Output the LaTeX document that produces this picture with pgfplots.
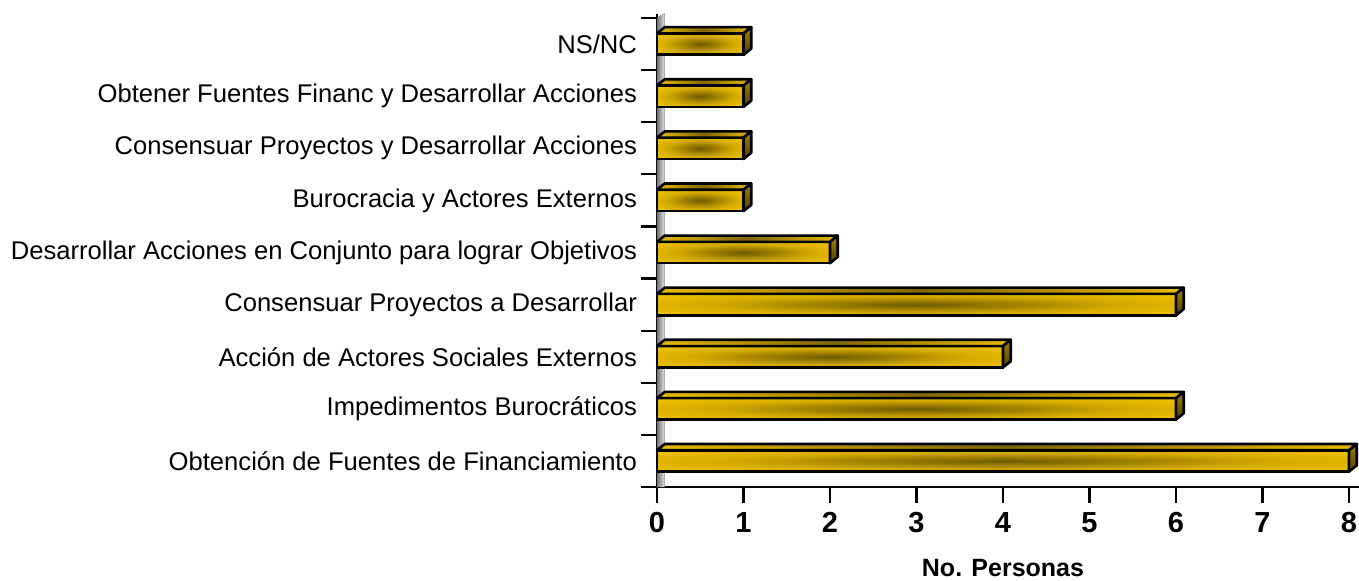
\documentclass[border=0pt]{standalone}
\usepackage{pgfplots}
\pgfplotsset{compat=1.18}
\usepackage{pgfplotstable}
\usepackage{fontspec}
\setmainfont{Liberation Sans}

% bar colours: front face, top face, side face
\definecolor{gLight}{RGB}{254,206,0}
\definecolor{gMid}{RGB}{214,171,0}
\definecolor{gDark}{RGB}{110,90,0}
\definecolor{tLight}{RGB}{232,186,0}
\definecolor{tDark}{RGB}{128,102,0}
\definecolor{sLight}{RGB}{160,128,0}
\definecolor{sDark}{RGB}{84,66,0}

% dark lens in the middle of each front face
\pgfdeclareradialshading{goldlens}{\pgfpoint{0bp}{0bp}}{%
  color(0bp)=(gDark); color(20bp)=(gMid); color(40bp)=(gLight); color(100bp)=(gLight)}

% pos = category index (bottom to top), val = number of persons
\pgfplotstableread{
pos val
0 8
1 6
2 4
3 6
4 2
5 1
6 1
7 1
8 1
}\bars

\newcommand\hh{0.205}% half height of the front face
\newcommand\dx{0.09}% depth offset along x
\newcommand\dy{0.12}% depth offset along y

\newcommand\threedbar[1]{%
  \pgfplotstablegetelem{#1}{val}\of\bars
  \pgfmathsetmacro\bv{\pgfplotsretval}%
  \pgfmathsetmacro\bx{\bv+\dx}%
  \pgfmathsetmacro\ytop{#1+\hh}%
  \pgfmathsetmacro\yhi{#1+\hh+\dy}%
  \pgfmathsetmacro\ybot{#1-\hh}%
  \pgfmathsetmacro\ybhi{#1-\hh+\dy}%
  \edef\doit{%
    \noexpand\addplot[xbar, bar width=0.41, bar shift=0pt, draw=black,
      line width=1.3pt, shade, shading=goldlens] coordinates {(\bv,#1)};
    \noexpand\addplot[draw=black, line width=1.3pt, line join=round,
      left color=tLight, right color=tLight, middle color=tDark]
      coordinates {(0,\ytop) (\bv,\ytop) (\bx,\yhi) (\dx,\yhi)} -- cycle;
    \noexpand\addplot[draw=black, line width=1.3pt, line join=round,
      top color=sLight, bottom color=sDark]
      coordinates {(\bv,\ybot) (\bv,\ytop) (\bx,\yhi) (\bx,\ybhi)} -- cycle;
  }\doit
}

\begin{document}
\begin{tikzpicture}
\useasboundingbox (-328.5pt,-46.5pt) rectangle (351pt,243.5pt);
\begin{axis}[
  at={(0,0)}, anchor=south west,
  scale only axis, width=346pt, height=234.5pt,
  xmin=0, xmax=8, ymin=-0.5, ymax=8.5,
  clip=false,
  axis x line*=bottom, axis y line*=left,
  axis line style={line width=1.3pt},
  y axis line style={shorten >=-2pt},
  x axis line style={shorten >=-5pt},
  tick align=outside,
  major tick length=8pt,
  tick style={black, line width=1.1pt},
  xtick={0,...,8},
  ytick={-0.5,0.5,...,8.5},
  yticklabels={,,,,,,,,,},
  extra y ticks={0,...,8},
  extra y tick labels={
    Obtención de Fuentes de Financiamiento,
    Impedimentos Burocráticos,
    Acción de Actores Sociales Externos,
    Consensuar Proyectos a Desarrollar,
    Desarrollar Acciones en Conjunto para lograr Objetivos,
    Burocracia y Actores Externos,
    Consensuar Proyectos y Desarrollar Acciones,
    Obtener Fuentes Financ y Desarrollar Acciones,
    NS/NC},
  extra y tick style={major tick length=0pt,
    yticklabel style={font=\fontsize{12.8}{15}\selectfont, xshift=-6.5pt}},
  xticklabel style={font=\bfseries\fontsize{14.5}{16}\selectfont, yshift=-1pt},
  /pgf/number format/assume math mode=true,
  xlabel={No. Personas},
  every axis x label/.style={at={(axis description cs:0.5,0)}, anchor=center,
    yshift=-40.3pt, font=\bfseries\fontsize{12.5}{15}\selectfont},
]
% grey back wall behind the bars
\fill[left color=black!55, right color=black!10]
  (rel axis cs:0,0) -- ([xshift=3.8pt]rel axis cs:0,0)
  -- ([xshift=3.8pt,yshift=2.5pt]rel axis cs:0,1) -- (rel axis cs:0,1) -- cycle;
\pgfplotsinvokeforeach{0,...,8}{\threedbar{#1}}
\end{axis}
\end{tikzpicture}
\end{document}
